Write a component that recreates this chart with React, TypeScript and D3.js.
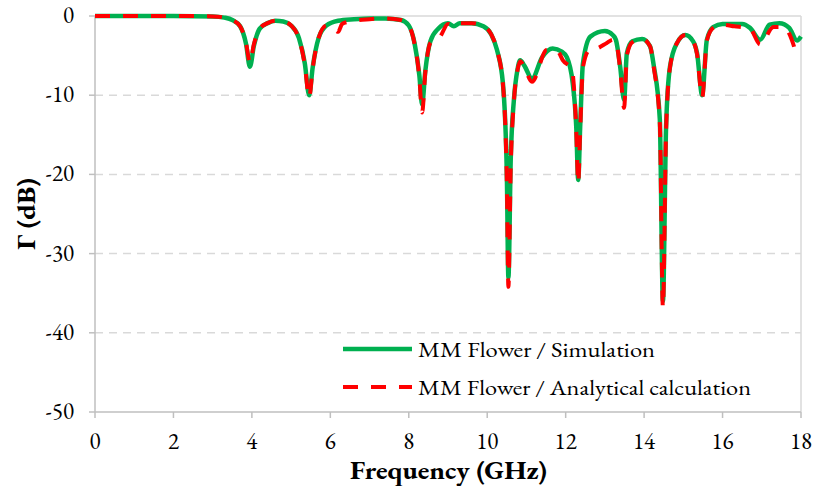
import { useMemo } from 'react';
import * as d3 from 'd3';

// Simulation curve (GHz, dB)
const simFreq = [0, 1, 2, 3, 3.3, 3.5, 3.7, 3.85, 3.95, 4.05, 4.2, 4.4, 4.6, 4.8, 5.0, 5.2, 5.35, 5.46, 5.55, 5.7, 5.9, 6.2, 6.6, 7.0, 7.4, 7.8, 8.0, 8.15, 8.27, 8.34, 8.42, 8.55, 8.75, 9.0, 9.15, 9.3, 9.6, 9.9, 10.1, 10.25, 10.4, 10.5, 10.54, 10.6, 10.68, 10.77, 10.84, 10.95, 11.14, 11.4, 11.67, 11.9, 12.03, 12.18, 12.27, 12.32, 12.37, 12.44, 12.63, 13.0, 13.2, 13.28, 13.39, 13.49, 13.56, 13.7, 13.95, 14.15, 14.25, 14.4, 14.48, 14.56, 14.66, 14.84, 15.05, 15.25, 15.35, 15.48, 15.6, 15.76, 16.0, 16.5, 16.7, 16.96, 17.2, 17.45, 17.7, 17.9, 18.0];
const simDb = [0, 0, 0, -0.05, -0.2, -0.5, -1.3, -3.5, -6.4, -3.8, -1.6, -0.9, -0.6, -0.7, -1.2, -2.8, -6, -10, -6.5, -2.8, -1.2, -0.6, -0.4, -0.3, -0.3, -0.5, -1.2, -3.5, -7.5, -11.2, -7, -3.2, -1.6, -0.9, -1.3, -0.9, -0.9, -1.3, -2.3, -4.3, -8.5, -20, -33, -18, -10.6, -6.8, -5.6, -6.3, -7.9, -5.2, -4.1, -4.5, -5.2, -8.5, -14, -20.7, -14, -6, -2.6, -1.9, -2.4, -3.0, -6.4, -10.6, -4.7, -3.2, -2.9, -3.8, -6.4, -13, -36, -14, -6.4, -3.4, -2.4, -3.2, -4.7, -10, -3, -1.4, -1.0, -1.0, -1.5, -3.0, -1.1, -0.9, -1.5, -3.1, -2.6];

// Analytical calculation curve (GHz, dB)
const calcFreq = [0, 1, 2, 3, 3.3, 3.5, 3.7, 3.85, 3.95, 4.05, 4.2, 4.4, 4.6, 4.8, 5.0, 5.2, 5.35, 5.46, 5.55, 5.7, 5.9, 6.05, 6.2, 6.3, 6.5, 7.0, 7.4, 7.8, 8.0, 8.15, 8.27, 8.34, 8.42, 8.55, 8.8, 9.0, 9.15, 9.3, 9.6, 9.9, 10.1, 10.25, 10.4, 10.5, 10.54, 10.6, 10.68, 10.77, 10.84, 10.95, 11.14, 11.52, 11.8, 11.93, 12.16, 12.27, 12.32, 12.37, 12.44, 12.6, 12.8, 13.05, 13.2, 13.28, 13.39, 13.49, 13.56, 13.7, 13.95, 14.15, 14.25, 14.4, 14.48, 14.56, 14.66, 14.84, 15.05, 15.25, 15.35, 15.48, 15.6, 15.76, 16.0, 16.3, 16.7, 16.96, 17.3, 17.55, 17.75, 17.85];
const calcDb = [0, 0, 0, -0.05, -0.2, -0.5, -1.3, -3.4, -5.9, -3.6, -1.6, -0.9, -0.6, -0.7, -1.2, -2.9, -6.2, -10.3, -6.6, -2.8, -1.2, -1.4, -2.0, -1.0, -0.7, -0.4, -0.3, -0.5, -1.2, -3.6, -7.8, -12.2, -7.2, -3.4, -2.6, -1.0, -1.3, -0.9, -0.9, -1.3, -2.3, -4.3, -8.6, -21, -34.2, -19, -10.8, -6.9, -5.7, -6.5, -8.3, -4.3, -4.5, -5.6, -6.8, -14.5, -21.1, -14.5, -6.5, -4.3, -4.1, -3.4, -3.0, -3.2, -6.8, -11.6, -5, -3.3, -2.9, -3.8, -6.6, -13.5, -36.8, -14.5, -6.5, -3.4, -2.4, -3.2, -4.8, -10.3, -3.1, -1.5, -1.1, -1.3, -1.6, -3.6, -1.4, -1.4, -2.8, -4.3];

const xTicks = [0, 2, 4, 6, 8, 10, 12, 14, 16, 18];
const yTicks = [0, -10, -20, -30, -40, -50];

const W = 814;
const H = 486;
const FONT = "'EB Garamond'";

export default function App() {
  const x = d3.scaleLinear().domain([0, 18]).range([95, 801]);
  const y = d3.scaleLinear().domain([0, -50]).range([16, 412]);

  const line = d3
    .line<[number, number]>()
    .x(d => x(d[0]))
    .y(d => y(d[1]))
    .curve(d3.curveMonotoneX);

  const simPath = useMemo(() => line(simFreq.map((f, i) => [f, simDb[i]] as [number, number])), []);
  const calcPath = useMemo(() => line(calcFreq.map((f, i) => [f, calcDb[i]] as [number, number])), []);

  return (
    <svg width={W} height={H} style={{ position: 'absolute', left: 0, top: 0, background: '#fff' }}>
      {/* grid */}
      {yTicks.filter(t => t !== 0 && t !== -50).map(t => (
        <line key={t} x1={x(0)} x2={x(18)} y1={y(t)} y2={y(t)} stroke="#D9D9D9" strokeWidth={1.5} strokeDasharray="8,6" />
      ))}
      <line x1={x(0)} x2={x(18)} y1={y(0)} y2={y(0)} stroke="#D9D9D9" strokeWidth={1.5} />
      <line x1={x(18)} x2={x(18)} y1={y(0)} y2={y(-50)} stroke="#D9D9D9" strokeWidth={1.5} />

      {/* axes */}
      <line x1={x(0)} x2={x(0)} y1={y(0)} y2={y(-50)} stroke="#BFBFBF" strokeWidth={1.5} />
      <line x1={x(0)} x2={x(18)} y1={y(-50)} y2={y(-50)} stroke="#BFBFBF" strokeWidth={1.5} />
      {yTicks.map(t => (
        <g key={t}>
          <line x1={x(0) - 6} x2={x(0)} y1={y(t)} y2={y(t)} stroke="#BFBFBF" strokeWidth={1.5} />
          <text x={x(0) - 21} y={y(t) + 7} textAnchor="end" style={{ fontFamily: FONT, fontSize: 23 }} fill="#000">
            {t}
          </text>
        </g>
      ))}
      {xTicks.map(t => (
        <g key={t}>
          <line x1={x(t)} x2={x(t)} y1={y(-50)} y2={y(-50) + 6} stroke="#BFBFBF" strokeWidth={1.5} />
          <text x={x(t)} y={449} textAnchor="middle" style={{ fontFamily: FONT, fontSize: 23 }} fill="#000">
            {t}
          </text>
        </g>
      ))}

      {/* curves */}
      <path d={simPath ?? ''} fill="none" stroke="#00B050" strokeWidth={4.5} strokeLinejoin="round" />
      <path d={calcPath ?? ''} fill="none" stroke="#FF0000" strokeWidth={4} strokeDasharray="15,13" strokeLinejoin="round" />

      {/* titles */}
      <text x={350} y={479} textLength={197} lengthAdjust="spacingAndGlyphs" style={{ fontFamily: FONT, fontSize: 25, fontWeight: 'bold' }} fill="#000">
        Frequency (GHz)
      </text>
      <text transform={`translate(35,250) rotate(-90)`} textLength={72} lengthAdjust="spacingAndGlyphs" style={{ fontFamily: FONT, fontSize: 26, fontWeight: 'bold' }} fill="#000">
        Γ (dB)
      </text>

      {/* legend */}
      <line x1={343} x2={412} y1={349} y2={349} stroke="#00B050" strokeWidth={4.5} />
      <text x={418} y={357} textLength={237} lengthAdjust="spacingAndGlyphs" style={{ fontFamily: FONT, fontSize: 21 }} fill="#000">MM Flower / Simulation</text>
      <line x1={343} x2={412} y1={387} y2={387} stroke="#FF0000" strokeWidth={4} strokeDasharray="15,13" />
      <text x={418} y={395} textLength={333} lengthAdjust="spacingAndGlyphs" style={{ fontFamily: FONT, fontSize: 21 }} fill="#000">MM Flower / Analytical calculation</text>
    </svg>
  );
}
